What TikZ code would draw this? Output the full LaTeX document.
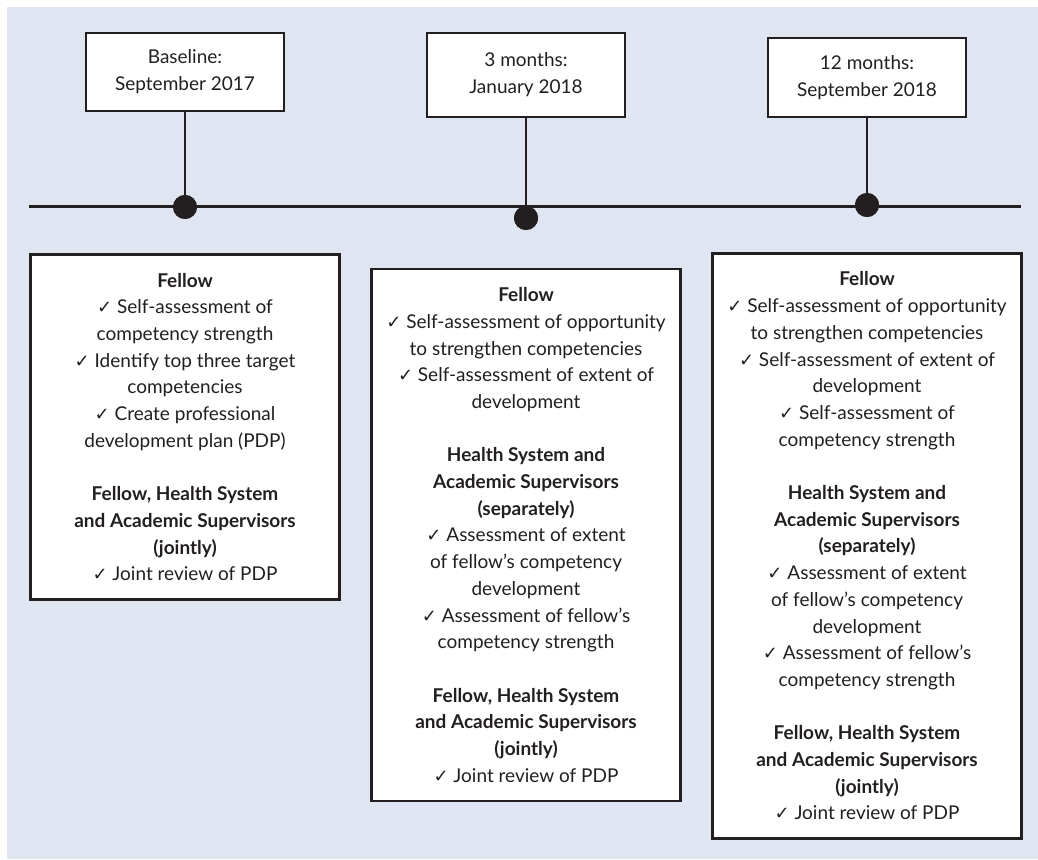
\documentclass[tikz,border=0pt]{standalone}
\usepackage{fontspec}
\setmainfont{Lato}
\newfontfamily\symfont{DejaVu Sans}
\definecolor{bg}{HTML}{DFE6F1}
\definecolor{ink}{HTML}{231F20}
\newcommand{\ck}{{\symfont\fontsize{18}{18}\selectfont ✓}\ }
\tikzset{
  datebox/.style={draw=ink, line width=2.6pt, fill=white, minimum width=198pt, inner sep=0pt, align=center, text=ink, font=\fontsize{19}{27}\selectfont},
  infobox/.style={draw=ink, line width=2.6pt, fill=white, minimum width=309pt, inner sep=0pt, align=center, text=ink, font=\fontsize{19}{26.7}\selectfont},
  dot/.style={circle, fill=ink, minimum size=24pt, inner sep=0pt},
  stem/.style={draw=ink, line width=2.6pt}
}
\begin{document}
\begin{tikzpicture}[x=1pt,y=-1pt]
\useasboundingbox (0,0) rectangle (1038,859);
\fill[bg] (7,7) rectangle (1038,859);
\coordinate (tl) at (29,206.5);
\coordinate (tr) at (1021,206.5);
\draw[stem] (tl) -- (tr);
\node[datebox, minimum height=78pt] (b1) at (185,72) {Baseline:\\September 2017};
\node[datebox, minimum height=84pt] (b2) at (526,75) {3 months:\\January 2018};
\node[datebox, minimum height=79pt] (b3) at (867,77.5) {12 months:\\September 2018};
\node[dot] (d1) at (185,207) {};
\node[dot] (d2) at (526,218) {};
\node[dot] (d3) at (867,205) {};
\draw[stem] (b1.south) -- (d1.center);
\draw[stem] (b2.south) -- (d2.center);
\draw[stem] (b3.south) -- (d3.center);
\node[infobox, minimum height=345pt] (i1) at (185,427) {\textbf{Fellow}\\
\ck Self-assessment of\\
competency strength\\
\ck Identify top three target\\
competencies\\
\ck Create professional\\
development plan (PDP)\\[26.7pt]
\textbf{Fellow, Health System}\\
\textbf{and Academic Supervisors}\\
\textbf{(jointly)}\\
\ck Joint review of PDP};
\node[infobox, minimum height=532pt] (i2) at (526,535) {\textbf{Fellow}\\
\ck Self-assessment of opportunity\\
to strengthen competencies\\
\ck Self-assessment of extent of\\
development\\[26.7pt]
\textbf{Health System and}\\
\textbf{Academic Supervisors}\\
\textbf{(separately)}\\
\ck Assessment of extent\\
of fellow's competency\\
development\\
\ck Assessment of fellow's\\
competency strength\\[26.7pt]
\textbf{Fellow, Health System}\\
\textbf{and Academic Supervisors}\\
\textbf{(jointly)}\\
\ck Joint review of PDP};
\node[infobox, minimum height=585pt] (i3) at (867,546) {\textbf{Fellow}\\
\ck Self-assessment of opportunity\\
to strengthen competencies\\
\ck Self-assessment of extent of\\
development\\
\ck Self-assessment of\\
competency strength\\[26.7pt]
\textbf{Health System and}\\
\textbf{Academic Supervisors}\\
\textbf{(separately)}\\
\ck Assessment of extent\\
of fellow's competency\\
development\\
\ck Assessment of fellow's\\
competency strength\\[26.7pt]
\textbf{Fellow, Health System}\\
\textbf{and Academic Supervisors}\\
\textbf{(jointly)}\\
\ck Joint review of PDP};
\fill[ink] (d1) circle (12pt);
\fill[ink] (d2) circle (12pt);
\fill[ink] (d3) circle (12pt);
\end{tikzpicture}
\end{document}
